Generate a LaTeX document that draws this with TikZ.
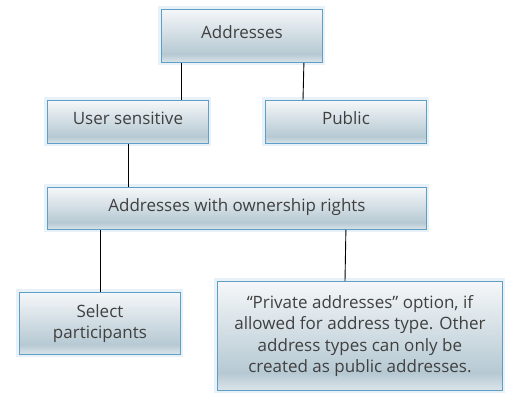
\documentclass[tikz,border=0pt]{standalone}
\usepackage{fontspec}
\setmainfont{Open Sans}
\usepackage{xcolor}
\usepackage{tikz}

\definecolor{boxtop}{HTML}{F5F7F9}
\definecolor{boxmid}{HTML}{B6C9D3}
\definecolor{boxlow}{HTML}{DCE4EA}
\definecolor{boxedge}{HTML}{5E9FC8}
\definecolor{glow}{HTML}{E8F1F8}
\definecolor{txt}{HTML}{404040}

\pgfdeclareverticalshading{boxshade}{100bp}{color(0bp)=(boxlow); color(25bp)=(boxlow); color(33bp)=(boxmid); color(75bp)=(boxtop); color(100bp)=(boxtop)}

\begin{document}
\begin{tikzpicture}[
    x=1pt, y=-1pt,
    topic/.style={
        draw=boxedge, line width=0.9pt, shading=boxshade,
        preaction={draw=glow, line width=6pt},
        anchor=north west, inner sep=0pt, align=center,
        text=txt, font=\fontsize{17}{21.5}\selectfont
    },
    oneline/.style={topic, text height=12pt, text depth=6pt},
    link/.style={draw=black, line width=0.9pt}
]
    \useasboundingbox (0,0) rectangle (517,402);

    \node[oneline, minimum width=161pt, minimum height=53pt] (addr) at (161,9) {Addresses};
    \node[oneline, minimum width=161pt, minimum height=43pt] (user) at (47,100) {User sensitive};
    \node[oneline, minimum width=161pt, minimum height=43pt] (public) at (265,100) {Public};
    \node[oneline, minimum width=379pt, minimum height=42pt] (owner) at (47,187) {Addresses with ownership rights};
    \node[topic, minimum width=161pt, minimum height=62pt] (select) at (19,292) {Select\\participants};
    \node[topic, minimum width=285pt, minimum height=109pt] (private) at (217,281) {%
        “Private addresses” option, if\\
        allowed for address type. Other\\
        address types can only be\\
        created as public addresses.};

    \draw[link] ([xshift=20pt]addr.south west) -- ([xshift=134pt]user.north west);
    \draw[link] ([xshift=-19pt]addr.south east) -- ([xshift=38pt]public.north west);
    \draw[link] (user.south) -- (user.south |- owner.north);
    \draw[link] (select.north |- owner.south) -- (select.north);
    \draw[link] ([xshift=-81pt]owner.south east) -- ([xshift=128pt]private.north west);
\end{tikzpicture}
\end{document}
